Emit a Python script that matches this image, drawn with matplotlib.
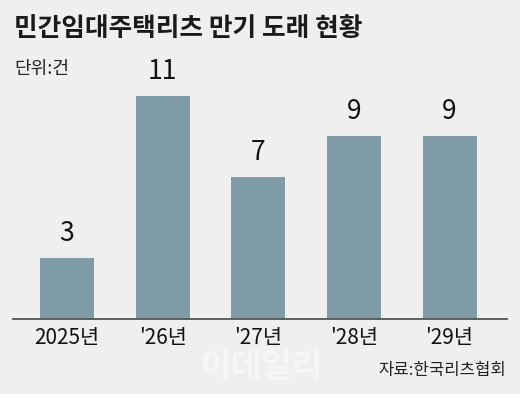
import matplotlib.pyplot as plt

# 민간임대주택리츠 만기 도래 현황 (단위: 건)
years = ["2025년", "'26년", "'27년", "'28년", "'29년"]
counts = [3, 11, 7, 9, 9]

bg = "#efefef"
bar_color = "#7f9ca6"
kr_font = ["Noto Sans CJK KR", "DejaVu Sans"]

fig = plt.figure(figsize=(5.2, 3.94), dpi=100, facecolor=bg)
ax = fig.add_axes([13 / 520, 75 / 394, 494 / 520, 259 / 394])
ax.set_facecolor(bg)

x = list(range(len(years)))
ax.bar(x, counts, width=0.565, color=bar_color)

for xi, v in zip(x, counts):
    ax.text(xi, v + 0.55, str(v), ha="center", va="bottom",
            fontsize=19, family=kr_font, color="#111111")

ax.set_xlim(-0.565, 4.60)
ax.set_ylim(0, 12.76)
ax.set_xticks(x)
ax.set_xticklabels(years, family=kr_font, fontsize=15, color="#111111")
ax.tick_params(axis="x", length=0, pad=6)
ax.set_yticks([])
for s in ["top", "right", "left"]:
    ax.spines[s].set_visible(False)
ax.spines["bottom"].set_color("#555555")
ax.spines["bottom"].set_linewidth(1.3)

fig.text(14 / 520, 1 - 28 / 394, "민간임대주택리츠 만기 도래 현황", ha="left", va="center",
         fontsize=18.5, fontweight="bold", family=kr_font, color="#1a1a1a")
fig.text(14 / 520, 1 - 69 / 394, "단위:건", ha="left", va="center",
         fontsize=13, family=kr_font, color="#222222")
fig.text(262 / 520, 1 - 368 / 394, "이데일리", ha="center", va="center",
         fontsize=24, fontweight="bold", family=kr_font, color="#f6f6f6", zorder=0)
fig.text(506 / 520, 1 - 370 / 394, "자료:한국리츠협회", ha="right", va="center",
         fontsize=12, family=kr_font, color="#222222")

fig.savefig("out.png", dpi=100, facecolor=bg)
